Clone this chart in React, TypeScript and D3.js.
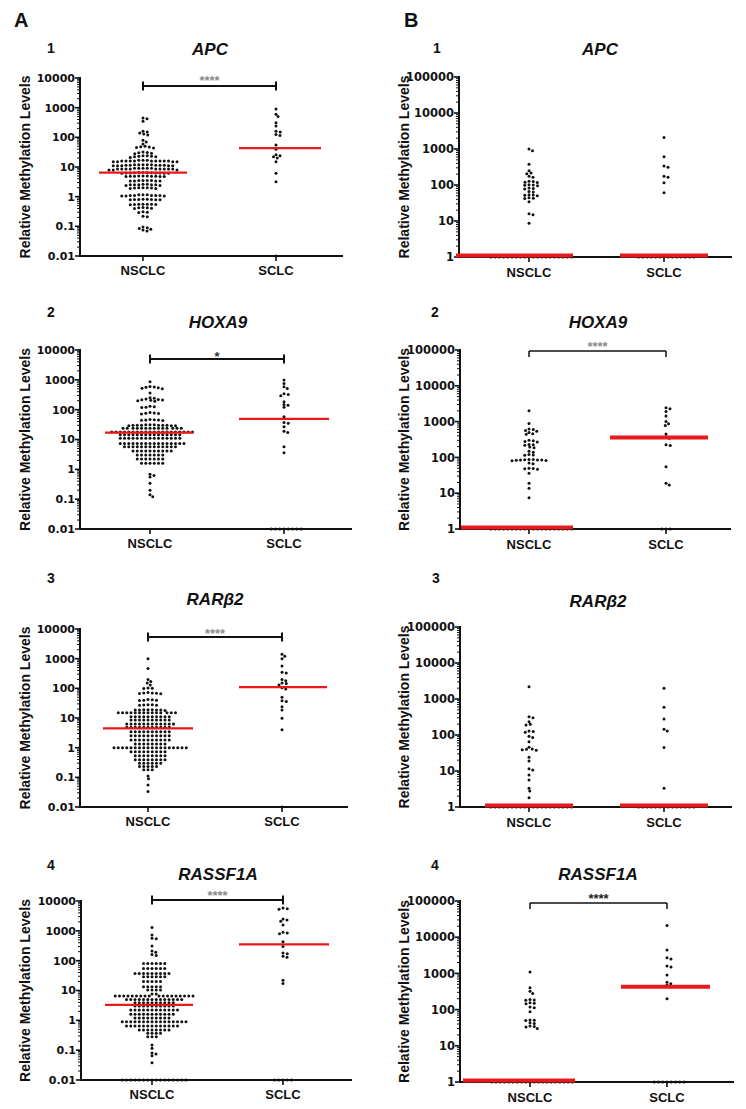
import React from 'react';
import * as d3 from 'd3';

// ---------------- DATA ----------------
const CATEGORIES = ['NSCLC', 'SCLC'];
const GENES = ['APC', 'HOXA9', 'RARβ2', 'RASSF1A'];
const PANEL_NUMS = ['1', '2', '3', '4'];
const Y_TICKS_A = [0.01, 0.1, 1, 10, 100, 1000, 10000];
const Y_TICKS_B = [1, 10, 100, 1000, 10000, 100000];
const SIGNIF_A = ['****', '*', '****', '****'];
const SIGNIF_B = ['', '****', '', '****'];
const MEDIANS_A = [[6.5, 43], [17, 49], [4.5, 110], [3.3, 350]];
const MEDIANS_B = [[1, 1], [1, 360], [1, 1], [1, 430]];

const A1_NSCLC = [
  450, 420, 350, 160, 150, 140, 130, 120, 80, 70, 60, 50, 48, 47, 45, 44,
  32, 31, 30, 29, 28, 24, 24, 23, 23, 22, 22, 21,
  17, 17, 17, 16, 16, 16, 16, 16, 16, 16, 15, 15, 15, 15, 16, 16,
  12, 12, 12, 12, 12, 11.5, 11.5, 11.5, 11.5, 11, 11, 11, 11, 11, 11.5,
  9, 9, 9, 9, 8.5, 8.5, 8.5, 8.5, 8.5, 8.5, 8.5, 8.5, 8, 8, 8, 8.5, 9,
  6.5, 6.5, 6.4, 6.3, 6.3, 6.3, 6.2, 6.2, 6.2, 6.3, 6.4, 6.5,
  5, 5, 4.9, 4.9, 4.8, 4.8, 4.9, 5, 4.8, 4.9,
  3.5, 3.5, 3.5, 3.4, 3.4, 3.4, 3.5, 3.4,
  2.6, 2.5, 2.5, 2.4, 2.5, 2.6, 2.4, 2.5, 2.5,
  2.0, 1.95, 1.9, 2.0, 1.95, 1.9, 2.0,
  1.15, 1.1, 1.1, 1.05, 1.1, 1.15, 1.05, 1.1, 1.1, 1.15, 1.05,
  0.8, 0.78, 0.8, 0.82, 0.78, 0.8, 0.82, 0.79,
  0.55, 0.54, 0.55, 0.53, 0.56, 0.54, 0.55,
  0.42, 0.41, 0.43, 0.42, 0.4, 0.3, 0.29, 0.31, 0.22, 0.21,
  0.095, 0.09, 0.085, 0.08, 0.075, 0.07,
];
const A1_SCLC = [900, 600, 500, 310, 240, 160, 150, 125, 115, 55, 40, 26, 24, 22, 20, 15, 6.1, 3.2, 0.01];

const A2_NSCLC = [
  870, 600, 580, 560, 540, 520, 500, 360,
  250, 240, 230, 220, 215, 210, 205, 200, 190,
  130, 125, 120, 118, 80, 78, 76, 75, 72, 47, 46, 45, 45, 44, 43,
  31, 31, 30, 30, 30, 30, 29, 29, 30, 31, 30, 29,
  24, 24, 24, 24, 24, 24, 24, 24, 24, 24, 24, 24, 24, 24,
  18, 18, 18, 18, 18, 18, 18, 18, 18, 18, 18, 18, 18, 18, 18, 18, 18, 18, 18, 18,
  14.5, 14.5, 14.5, 14.5, 14.5, 14.5, 14.5, 14.5, 14.5, 14.5, 14.5, 14.5, 14.5, 14.5, 14.5,
  11, 11, 11, 11, 11, 11, 11, 11, 11, 11, 11, 11, 11, 11, 11,
  7.4, 7.4, 7.4, 7.4, 7.4, 7.4, 7.4, 7.4, 7.4, 7.4, 7.4, 7.4, 7.4, 7.4, 7.4, 7.4,
  5.7, 5.7, 5.7, 5.7, 5.7, 5.7, 5.7, 5.7, 5.7, 5.7, 5.7, 5.7, 5.7,
  4.1, 4.1, 4.1, 4.1, 4.1, 4.1, 4.1, 4.1, 4.1, 4.1,
  3.0, 3.0, 3.0, 3.0, 3.0, 3.0, 3.0, 2.2, 2.2, 2.2, 2.2, 2.2, 2.2, 2.2,
  1.6, 1.6, 1.6, 1.6, 1.6, 1.6, 0.68, 0.62, 0.55, 0.34, 0.2, 0.14, 0.12,
];
const A2_SCLC = [980, 760, 590, 515, 340, 320, 295, 185, 150, 140, 120, 58, 37, 35, 27, 19, 17, 5.7, 3.6,
  0.01, 0.01, 0.01, 0.01, 0.01, 0.01, 0.01, 0.01];

const A3_NSCLC = [
  1000, 470, 200, 170, 150, 130, 100, 98, 102, 70, 68, 66, 72, 69, 67,
  41, 40, 39, 42, 40, 28, 27, 27.5, 28, 27, 19, 18.5, 18.6, 19, 18, 18.5, 19, 18.6,
  15, 15, 15, 15, 15, 15, 15, 15, 15, 15, 15, 15, 15, 15,
  11, 11, 11, 11, 11, 11, 11, 11, 11, 11,
  8.6, 8.6, 8.6, 8.6, 8.6, 8.6, 8.6, 8.6, 8.6, 8.6,
  6.3, 6.3, 6.3, 6.3, 6.3, 6.3, 6.3, 6.3, 6.3, 6.3, 6.3, 6.3,
  4.9, 4.9, 4.9, 4.9, 4.9, 4.9, 4.9, 4.9, 4.9, 4.9, 4.9,
  3.46, 3.46, 3.46, 3.46, 3.46, 3.46, 3.46, 3.46, 3.46, 3.46,
  2.5, 2.5, 2.5, 2.5, 2.5, 2.5, 2.5, 2.5, 2.5, 2.5,
  1.8, 1.8, 1.8, 1.8, 1.8, 1.8, 1.8, 1.8, 1.8, 1.8,
  1.33, 1.33, 1.33, 1.33, 1.33, 1.33, 1.33, 1.33,
  1, 1, 1, 1, 1, 1, 1, 1, 1, 1, 1, 1, 1, 1, 1, 1, 1, 1,
  0.73, 0.73, 0.73, 0.73, 0.73, 0.73, 0.73, 0.73, 0.73,
  0.53, 0.53, 0.53, 0.53, 0.53, 0.53, 0.53, 0.53,
  0.39, 0.39, 0.39, 0.39, 0.39, 0.39, 0.39, 0.39,
  0.3, 0.3, 0.3, 0.3, 0.3, 0.3, 0.23, 0.23, 0.23, 0.23, 0.23, 0.18, 0.18, 0.18,
  0.11, 0.09, 0.055, 0.033,
];
const A3_SCLC = [1400, 1200, 1000, 570, 350, 330, 200, 180, 150, 145, 130, 105, 95, 50, 38, 36, 24, 18.7, 9.8, 4.0, 0.01];

const A4_NSCLC = [
  1300, 720, 560, 540, 310, 210, 190, 160, 150,
  81, 81, 81, 81, 81, 81, 55, 55, 55, 55, 55, 55,
  37, 37, 37, 37, 37, 37, 37, 37, 37, 29, 29, 29, 29, 29, 29,
  20, 20, 20, 20, 20, 13.4, 13.4, 13.4, 13.4, 13.4, 10.4, 10.4, 10.4, 10.4, 7.6, 7.6,
  6.5, 6.5, 6.5, 6.5, 6.5, 6.5, 6.5, 6.5, 6.5, 6.5, 6.5, 6.5, 6.5, 6.5, 6.5, 6.5, 6.5, 6.5,
  5.0, 5.0, 5.0, 5.0, 5.0, 5.0, 5.0, 5.0, 5.0, 5.0, 5.0, 5.0, 5.0, 5.0,
  3.9, 3.9, 3.9, 3.9, 3.9, 3.9, 3.9, 3.9, 3.9, 3.9,
  3.0, 3.0, 3.0, 3.0, 3.0, 3.0, 3.0, 3.0, 3.0, 3.0,
  2.2, 2.2, 2.2, 2.2, 2.2, 2.2, 2.2, 2.2, 2.2, 2.2, 2.2, 2.2,
  1.6, 1.6, 1.6, 1.6, 1.6, 1.6, 1.6, 1.6, 1.6, 1.6, 1.6,
  1.2, 1.2, 1.2, 1.2, 1.2, 1.2, 1.2, 1.2, 1.2,
  0.9, 0.9, 0.9, 0.9, 0.9, 0.9, 0.9, 0.9, 0.9, 0.9, 0.9, 0.9, 0.9, 0.9, 0.9, 0.9,
  0.64, 0.64, 0.64, 0.64, 0.64, 0.64, 0.64, 0.64, 0.64, 0.64, 0.64, 0.64, 0.64,
  0.47, 0.47, 0.47, 0.47, 0.47, 0.47, 0.47, 0.47, 0.37, 0.37, 0.37, 0.37, 0.28, 0.28, 0.28,
  0.15, 0.115, 0.08, 0.074, 0.065, 0.038,
  0.01, 0.01, 0.01, 0.01, 0.01, 0.01, 0.01, 0.01, 0.01, 0.01, 0.01, 0.01, 0.01, 0.01, 0.01, 0.01,
];
const A4_SCLC = [5800, 5500, 5300, 2500, 2300, 2100, 1560, 900, 850, 800, 430, 300, 180, 170, 140, 130, 22, 17,
  0.01, 0.01, 0.01, 0.01, 0.01];

const B1_NSCLC = [1000, 900, 380, 250, 215, 205, 175, 165, 128, 125, 120, 118, 102, 100, 98, 96, 82, 80, 78, 66, 64,
  54, 53, 52, 50, 44, 43, 42, 34, 16, 15, 8.6,
  1, 1, 1, 1, 1, 1, 1, 1, 1, 1, 1, 1, 1, 1, 1, 1, 1, 1, 1, 1];
const B1_SCLC = [2100, 610, 335, 310, 175, 165, 116, 61, 1, 1, 1, 1, 1, 1, 1, 1, 1, 1, 1, 1, 1, 1];

const B2_NSCLC = [2000, 890, 620, 600, 560, 540, 500, 460, 440, 300, 290, 280, 270, 230, 224, 218, 195, 185, 148, 140,
  120, 117, 114, 88, 87, 86, 85, 85, 84, 83, 82, 80, 70, 66, 50, 49, 48, 47, 36, 19, 13.7, 7.5,
  1, 1, 1, 1, 1, 1, 1, 1, 1, 1, 1, 1, 1, 1, 1, 1, 1, 1, 1, 1];
const B2_SCLC = [2450, 2300, 1900, 1440, 1000, 870, 780, 450, 380, 340, 225, 215, 55, 19, 17, 1, 1, 1];

const B3_NSCLC = [2200, 320, 300, 235, 200, 190, 130, 125, 120, 93, 85, 65, 46, 41, 40, 39, 38, 24, 19, 11.6, 10.6,
  7.8, 5.6, 3.3, 2.8, 1.8, 1, 1, 1, 1, 1, 1, 1, 1, 1, 1, 1, 1, 1, 1, 1, 1, 1, 1, 1, 1];
const B3_SCLC = [2000, 590, 280, 145, 130, 45, 3.3, 1, 1, 1, 1, 1, 1, 1, 1, 1, 1, 1, 1, 1, 1];

const B4_NSCLC = [1100, 400, 320, 280, 190, 185, 180, 155, 150, 145, 118, 112, 87, 52, 51, 50, 43, 41, 35, 34, 33, 30,
  1, 1, 1, 1, 1, 1, 1, 1, 1, 1, 1, 1, 1, 1, 1, 1, 1, 1, 1, 1];
const B4_SCLC = [21000, 4400, 2700, 2500, 1600, 1500, 900, 570, 520, 480, 430, 200, 1, 1, 1, 1, 1, 1, 1, 1];

// ---------------- LAYOUT ----------------
type Layout = {
  axisX: number; xEnd: number; yTop: number; yBot: number; cx: [number, number];
  titleX: number; titleY: number; numX: number; numY: number; labelX: number;
  bracketY: number; starY: number; starColor: string; medExt: [number, number][];
};

const LAYOUT_A: Layout[] = [
  { axisX: 80, xEnd: 343, yTop: 78, yBot: 256, cx: [143, 276], titleX: 210, titleY: 55, numX: 47, numY: 53, labelX: 25, bracketY: 86, starY: 85, starColor: '#8a8a8a', medExt: [[-44, 44], [-37, 45]] },
  { axisX: 80, xEnd: 352, yTop: 350, yBot: 529, cx: [150, 284], titleX: 218, titleY: 328, numX: 47, numY: 317, labelX: 25, bracketY: 359, starY: 361, starColor: '#333', medExt: [[-45, 43], [-45, 45]] },
  { axisX: 80, xEnd: 348, yTop: 629, yBot: 807, cx: [148, 282], titleX: 215, titleY: 605, numX: 47, numY: 583, labelX: 25, bracketY: 637, starY: 638, starColor: '#8a8a8a', medExt: [[-45, 45], [-43, 45]] },
  { axisX: 81, xEnd: 352, yTop: 901, yBot: 1080, cx: [152, 283], titleX: 218, titleY: 880, numX: 47, numY: 870, labelX: 25, bracketY: 900, starY: 900, starColor: '#8a8a8a', medExt: [[-47, 41], [-44, 46]] },
];
const LAYOUT_B: Layout[] = [
  { axisX: 459, xEnd: 732, yTop: 77, yBot: 257, cx: [529, 664], titleX: 600, titleY: 55, numX: 433, numY: 53, labelX: 404, bracketY: 0, starY: 0, starColor: '#333', medExt: [[-73, 44], [-44, 44]] },
  { axisX: 460, xEnd: 731, yTop: 350, yBot: 529, cx: [529, 666], titleX: 598, titleY: 328, numX: 431, numY: 317, labelX: 404, bracketY: 351, starY: 351, starColor: '#8a8a8a', medExt: [[-68, 44], [-56, 42]] },
  { axisX: 460, xEnd: 732, yTop: 627, yBot: 807, cx: [529, 664], titleX: 598, titleY: 607, numX: 432, numY: 583, labelX: 404, bracketY: 0, starY: 0, starColor: '#333', medExt: [[-44, 44], [-44, 44]] },
  { axisX: 460, xEnd: 734, yTop: 901, yBot: 1082, cx: [530, 667], titleX: 598, titleY: 880, numX: 431, numY: 870, labelX: 404, bracketY: 903, starY: 903, starColor: '#222', medExt: [[-67, 45], [-46, 43]] },
];

const DATA_A = [[A1_NSCLC, A1_SCLC], [A2_NSCLC, A2_SCLC], [A3_NSCLC, A3_SCLC], [A4_NSCLC, A4_SCLC]];
const DATA_B = [[B1_NSCLC, B1_SCLC], [B2_NSCLC, B2_SCLC], [B3_NSCLC, B3_SCLC], [B4_NSCLC, B4_SCLC]];

const FONT = 'Arial, "Liberation Sans", sans-serif';
const TICK_FONT = '"DejaVu Sans", Arial, sans-serif';
const RED = '#e8191b';

function swarm(vals: number[], yOf: (v: number) => number, cx: number) {
  const DX = 4.25, DY = 2.6, STEP = 0.25;
  const order = vals.map((v) => ({ v, y: yOf(v) })).sort((a, b) => b.v - a.v);
  const placed: { x: number; y: number }[] = [];
  for (const p of order) {
    const near = placed.filter((q) => Math.abs(q.y - p.y) < DY);
    let x = cx;
    for (let k = 0; k < 4000; k++) {
      const off = k === 0 ? 0 : (k % 2 === 1 ? 1 : -1) * Math.ceil(k / 2) * STEP;
      const tx = cx + off;
      let ok = true;
      for (const q of near) {
        const ddx = (q.x - tx) / DX, ddy = (q.y - p.y) / DY;
        if (ddx * ddx + ddy * ddy < 1) { ok = false; break; }
      }
      if (ok) { x = tx; break; }
    }
    placed.push({ x, y: p.y });
  }
  return placed;
}

function Panel({ L, data, ticks, medians, gene, num, stars, col }: {
  L: Layout; data: number[][]; ticks: number[]; medians: number[]; gene: string; num: string; stars: string; col: 'A' | 'B';
}) {
  const domain = [ticks[0], ticks[ticks.length - 1]];
  const y = d3.scaleLog().domain(domain).range([L.yBot, L.yTop]);
  const x = d3.scalePoint<string>().domain(CATEGORIES).range(L.cx);
  const minor: number[] = [];
  ticks.slice(0, -1).forEach((t) => { for (let k = 2; k <= 9; k++) minor.push(t * k); });
  const isB = col === 'B';
  const medW = isB ? 4 : 2.2;
  const yc = (L.yTop + L.yBot) / 2;
  return (
    <g>
      <text x={L.numX} y={L.numY} fontFamily={FONT} fontWeight="bold" fontSize={14} fill="#111">{num}</text>
      <text x={L.titleX} y={L.titleY} fontFamily={FONT} fontWeight="bold" fontStyle="italic" fontSize={17} textAnchor="middle" fill="#111">{gene}</text>
      <text transform={`translate(${L.labelX},${yc}) rotate(-90)`} fontFamily={FONT} fontWeight="bold" fontSize={14} textAnchor="middle" dy="0.35em" fill="#111">Relative Methylation Levels</text>
      {/* y axis */}
      <line x1={L.axisX} x2={L.axisX} y1={L.yTop - 1} y2={L.yBot + 1} stroke="#111" strokeWidth={2} />
      {minor.map((m, i) => (
        <line key={'m' + i} x1={L.axisX - 3} x2={L.axisX} y1={y(m)} y2={y(m)} stroke="#111" strokeWidth={1} />
      ))}
      {ticks.map((t) => (
        <g key={'t' + t}>
          <line x1={L.axisX - 5} x2={L.axisX} y1={y(t)} y2={y(t)} stroke="#111" strokeWidth={1.6} />
          <text x={L.axisX - 5} y={y(t)} dy="0.36em" textAnchor="end" fontFamily={TICK_FONT} fontWeight="bold" fontSize={isB ? 11.5 : 11} fill="#111">{String(t)}</text>
        </g>
      ))}
      {/* x axis */}
      <line x1={L.axisX} x2={L.xEnd} y1={L.yBot} y2={L.yBot} stroke="#111" strokeWidth={1.8} />
      {CATEGORIES.map((c) => (
        <g key={'x' + c}>
          <line x1={x(c)} x2={x(c)} y1={L.yBot} y2={L.yBot + 5} stroke="#111" strokeWidth={1.6} />
          <text x={x(c)} y={L.yBot + (isB ? 20 : 19)} textAnchor="middle" fontFamily={FONT} fontWeight="bold" fontSize={13} fill="#111">{c}</text>
        </g>
      ))}
      {/* dots */}
      {data.map((vals, gi) => {
        const pts = swarm(vals, (v) => y(Math.max(v, domain[0])), x(CATEGORIES[gi]) as number);
        return pts.map((p, i) => <circle key={gi + '-' + i} cx={p.x} cy={p.y} r={1.5} fill="#111" />);
      })}
      {/* medians */}
      {medians.map((m, gi) => {
        const cx = x(CATEGORIES[gi]) as number;
        const my = y(m) - (isB && m === 1 ? 1.5 : 0);
        return <line key={'md' + gi} x1={cx + L.medExt[gi][0]} x2={cx + L.medExt[gi][1]} y1={my} y2={my} stroke={RED} strokeWidth={medW} />;
      })}
      {/* significance bracket */}
      {stars && (
        <g>
          <line x1={L.cx[0]} x2={L.cx[1]} y1={L.bracketY} y2={L.bracketY} stroke="#111" strokeWidth={isB ? 1.5 : 2} />
          <line x1={L.cx[0]} x2={L.cx[0]} y1={isB ? L.bracketY : L.bracketY - 4.5} y2={L.bracketY + (isB ? 6 : 4.5)} stroke="#111" strokeWidth={isB ? 1.5 : 2} />
          <line x1={L.cx[1]} x2={L.cx[1]} y1={isB ? L.bracketY : L.bracketY - 4.5} y2={L.bracketY + (isB ? 6 : 4.5)} stroke="#111" strokeWidth={isB ? 1.5 : 2} />
          <text x={(L.cx[0] + L.cx[1]) / 2} y={L.starY} textAnchor="middle" fontFamily={FONT} fontWeight="bold" fontSize={13} fill={L.starColor}>{stars}</text>
        </g>
      )}
    </g>
  );
}

export default function App() {
  return (
    <svg width={746} height={1109} style={{ position: 'absolute', left: 0, top: 0, background: '#fff' }}>
      <rect width={746} height={1109} fill="#fff" />
      <text x={14} y={27} fontFamily={FONT} fontWeight="bold" fontSize={20} fill="#111">A</text>
      <text x={404} y={27} fontFamily={FONT} fontWeight="bold" fontSize={20} fill="#111">B</text>
      {GENES.map((g, i) => (
        <Panel key={'A' + i} L={LAYOUT_A[i]} data={DATA_A[i]} ticks={Y_TICKS_A} medians={MEDIANS_A[i]} gene={g} num={PANEL_NUMS[i]} stars={SIGNIF_A[i]} col="A" />
      ))}
      {GENES.map((g, i) => (
        <Panel key={'B' + i} L={LAYOUT_B[i]} data={DATA_B[i]} ticks={Y_TICKS_B} medians={MEDIANS_B[i]} gene={g} num={PANEL_NUMS[i]} stars={SIGNIF_B[i]} col="B" />
      ))}
    </svg>
  );
}
